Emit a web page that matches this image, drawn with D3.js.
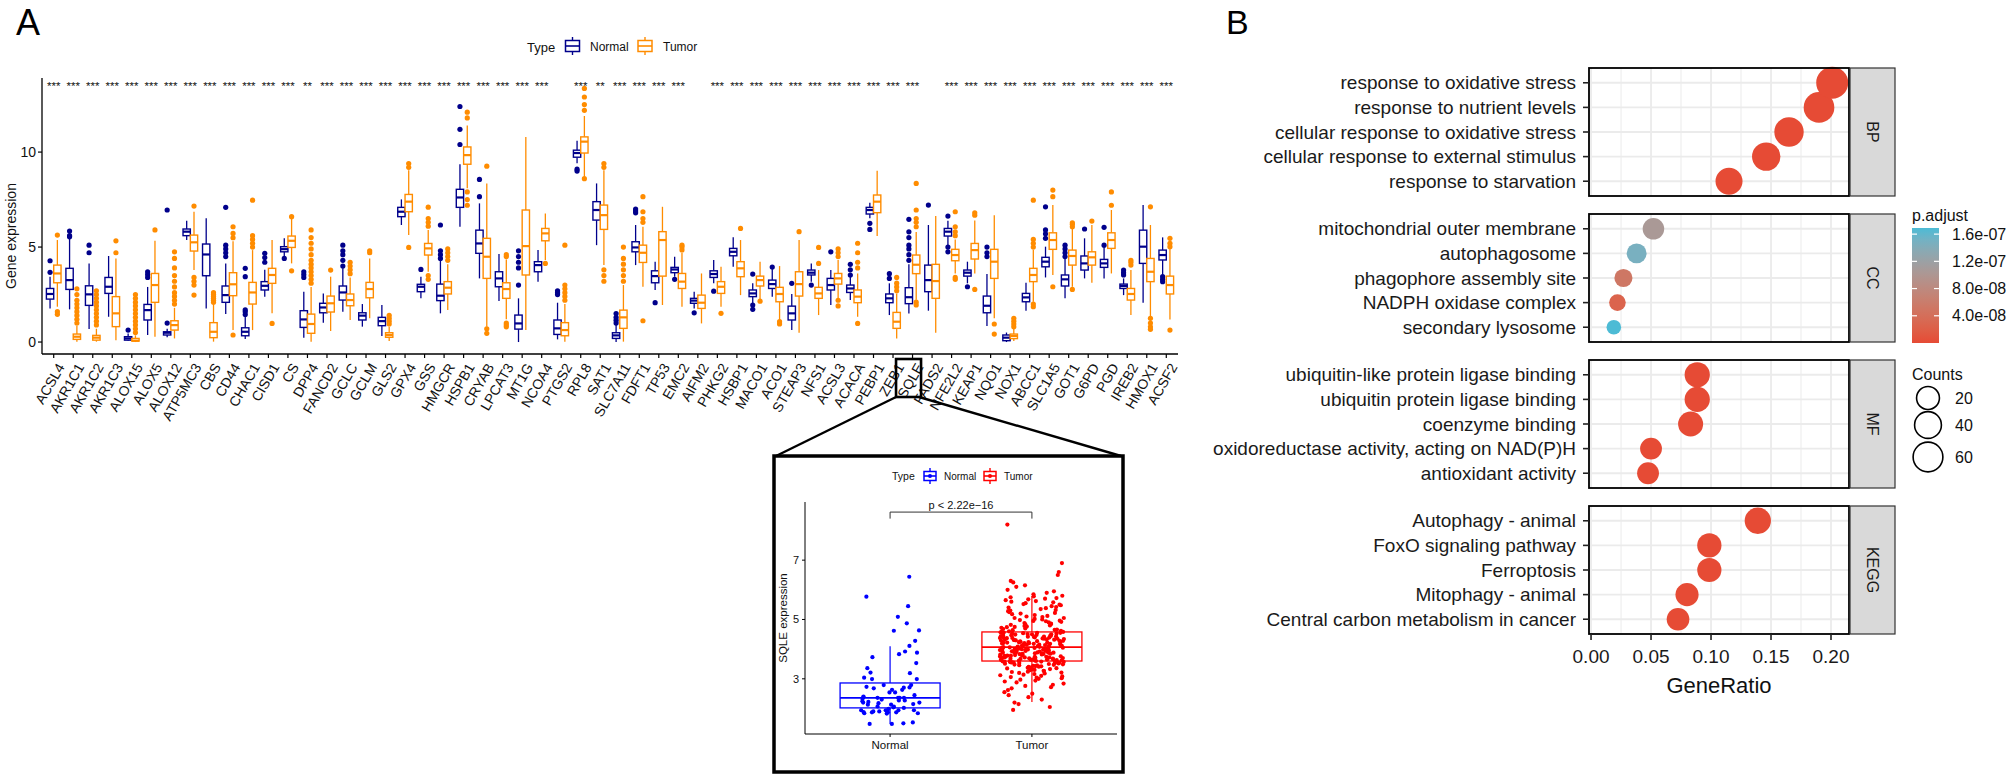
<!DOCTYPE html>
<html><head><meta charset="utf-8">
<script src="https://cdn.jsdelivr.net/npm/d3@7"></script>
<style>body{margin:0;background:#fff} svg{display:block} text{font-family:"Liberation Sans",Arial,sans-serif}</style>
</head><body>
<svg id="chart" width="2007" height="775"></svg>
<script>
// ---------------- Panel A data ----------------
const genes = ["ACSL4","AKR1C1","AKR1C2","AKR1C3","ALOX15","ALOX5","ALOX12","ATP5MC3","CBS","CD44","CHAC1","CISD1","CS","DPP4","FANCD2","GCLC","GCLM","GLS2","GPX4","GSS","HMGCR","HSPB1","CRYAB","LPCAT3","MT1G","NCOA4","PTGS2","RPL8","SAT1","SLC7A11","FDFT1","TP53","EMC2","AIFM2","PHKG2","HSBP1","MACO1","ACO1","STEAP3","NFS1","ACSL3","ACACA","PEBP1","ZEB1","SQLE","FADS2","NFE2L2","KEAP1","NQO1","NOX1","ABCC1","SLC1A5","GOT1","G6PD","PGD","IREB2","HMOX1","ACSF2"];
const stars = ["***","***","***","***","***","***","***","***","***","***","***","***","***","**","***","***","***","***","***","***","***","***","***","***","***","***","","***","**","***","***","***","***","","***","***","***","***","***","***","***","***","***","***","***","","***","***","***","***","***","***","***","***","***","***","***","***"];
// [lower whisker, Q1, median, Q3, upper whisker]
const normalBox = [[1.77,2.26,2.53,2.82,3.44],[1.72,2.77,3.26,3.88,5.46],[0.68,1.93,2.51,2.96,4.14],[1.33,2.56,2.91,3.4,4.53],[0.05,0.1,0.19,0.28,0.45],[0.37,1.16,1.68,1.98,2.9],[0.25,0.37,0.49,0.54,0.7],[5.37,5.6,5.81,5.95,6.39],[1.77,3.49,4.61,5.16,6.51],[1.47,2.09,2.47,2.95,4.14],[0.16,0.33,0.54,0.75,1.33],[2.39,2.74,2.96,3.18,3.8],[4.53,4.75,4.89,5.02,5.46],[0.23,0.77,1.19,1.65,2.65],[1.02,1.54,1.82,2.04,2.56],[1.6,2.21,2.61,2.95,3.88],[0.81,1.16,1.39,1.54,2.0],[0.32,0.86,1.1,1.3,1.95],[6.16,6.6,6.86,7.09,7.51],[2.3,2.65,2.91,3.04,3.44],[1.51,2.18,2.44,3.05,4.3],[6.07,7.09,7.61,8.04,9.36],[3.35,4.67,5.19,5.89,7.3],[2.16,2.91,3.35,3.7,4.63],[0.0,0.68,0.98,1.42,2.3],[3.18,3.7,4.05,4.23,4.84],[0.14,0.4,0.72,1.16,2.07],[9.41,9.73,9.95,10.1,10.6],[5.1,6.42,6.95,7.39,8.35],[0.0,0.19,0.35,0.49,0.9],[4.05,4.75,4.98,5.28,6.16],[2.74,3.12,3.47,3.75,4.23],[3.44,3.65,3.82,3.93,4.49],[1.77,2.04,2.18,2.3,2.65],[3.09,3.4,3.58,3.75,4.32],[3.96,4.54,4.75,4.93,5.51],[2.04,2.39,2.56,2.74,3.09],[2.39,2.82,3.05,3.26,3.88],[0.63,1.16,1.51,1.89,2.53],[3.18,3.53,3.65,3.79,4.14],[1.95,2.74,3.0,3.35,3.79],[2.21,2.61,2.82,3.0,3.44],[6.51,6.74,6.95,7.09,7.33],[1.42,2.07,2.3,2.53,3.09],[1.5,2.02,2.36,2.86,4.1],[1.65,2.65,3.26,4.05,6.16],[5.1,5.58,5.81,5.98,6.39],[3.09,3.47,3.65,3.79,4.23],[0.84,1.54,1.91,2.42,3.58],[0.0,0.07,0.23,0.37,0.5],[1.65,2.12,2.35,2.56,3.12],[3.4,3.96,4.23,4.46,5.02],[2.3,2.95,3.3,3.53,4.4],[3.35,3.79,4.14,4.53,5.46],[3.35,3.93,4.14,4.35,5.02],[2.47,2.82,2.95,3.05,3.35],[2.07,4.14,5.02,5.89,7.21],[3.53,4.32,4.58,4.84,5.51]];
const tumorBox = [[1.86,3.12,3.61,4.05,5.37],[0.02,0.14,0.28,0.42,0.85],[0.02,0.1,0.23,0.35,0.7],[0.1,0.81,1.51,2.39,4.4],[0.0,0.05,0.07,0.19,0.35],[0.28,2.09,3.0,3.61,5.33],[0.19,0.63,0.89,1.12,1.8],[3.79,4.79,5.25,5.63,6.86],[0.02,0.23,0.54,1.02,2.0],[0.63,2.44,3.04,3.65,5.3],[0.63,2.0,2.61,3.14,4.84],[1.51,3.09,3.53,3.88,5.37],[4.14,4.98,5.33,5.58,6.51],[0.02,0.46,0.95,1.47,2.9],[0.58,1.58,2.04,2.42,3.44],[1.16,1.91,2.21,2.53,3.4],[1.25,2.33,2.79,3.14,4.4],[0.05,0.25,0.37,0.49,0.81],[5.63,6.86,7.39,7.77,9.05],[3.7,4.58,4.93,5.19,5.9],[1.68,2.53,2.86,3.18,4.1],[8.1,9.36,9.84,10.27,11.4],[0.81,3.35,4.49,5.46,8.35],[1.2,2.3,2.79,3.12,4.35],[0.63,3.53,5.05,6.95,10.8],[4.32,5.33,5.72,5.98,6.77],[0.02,0.33,0.63,1.02,2.0],[8.7,9.95,10.55,10.8,11.9],[4.05,5.93,6.68,7.21,9.05],[0.02,0.72,1.3,1.68,3.0],[2.91,4.19,4.7,5.1,6.07],[1.95,3.47,5.37,5.81,7.12],[1.86,2.82,3.18,3.61,4.7],[0.98,1.77,2.07,2.47,3.61],[1.86,2.56,2.91,3.18,3.96],[2.47,3.44,3.88,4.23,5.37],[2.21,2.95,3.26,3.47,4.23],[1.16,2.12,2.53,2.88,4.0],[0.49,2.42,3.05,3.7,5.37],[1.42,2.3,2.56,2.88,3.79],[2.3,3.05,3.35,3.61,4.32],[1.33,2.07,2.39,2.74,3.61],[5.58,6.81,7.39,7.74,9.02],[0.19,0.72,1.07,1.56,2.56],[2.22,3.6,4.07,4.58,5.79],[0.49,2.3,3.21,4.09,6.63],[3.61,4.28,4.58,4.88,5.4],[3.61,4.37,4.84,5.19,6.4],[1.25,3.35,4.23,4.88,6.68],[0.05,0.18,0.32,0.42,0.7],[2.12,3.18,3.53,3.88,4.84],[3.53,4.88,5.37,5.75,7.21],[2.91,4.05,4.53,4.84,6.0],[3.12,4.05,4.46,4.75,6.16],[3.61,4.93,5.37,5.75,6.95],[1.42,2.21,2.53,2.82,3.79],[1.33,3.18,3.7,4.4,6.16],[1.19,2.53,3.0,3.47,4.93]];
const normalOut = [[4.28,3.67],[5.84,5.6,5.54],[4.7,5.1],[],[0.63],[3.7,3.55,3.4],[1.0,6.95],[],[],[4.5,4.7,4.9,5.1,7.09],[1.45,1.6,1.7,3.44,3.88],[4.2,4.45,4.67],[4.4],[3.4,3.55,3.7],[],[4.0,4.3,4.6,4.8,5.1],[],[],[],[3.82],[4.4,4.6,4.8,6.16],[10.4,11.2,12.4],[7.65,8.56],[],[3.0,3.9,4.2,4.5,4.8],[],[2.5,2.6,2.7],[9.1,9.0],[],[1.0,1.15,1.3,1.5],[6.8,6.9,7.0],[2.07],[3.3],[1.54],[2.68],[],[3.58,1.95,1.72],[3.95],[3.09],[3.0],[4.75],[3.53,3.8,4.09],[6.25,5.93],[3.35,3.6],[4.3,4.6,4.9,5.1,5.5,5.8,6.46],[7.21],[6.63,5.0,4.75],[2.91],[4.5,4.7,5.0],[],[],[5.46,5.7,5.9,7.12],[4.5,4.7,4.9,5.1],[5.95],[5.1,6.04],[3.53,3.65,3.79],[],[3.44,3.3,3.18]];
const tumorOut = [[5.63,1.6,1.46],[2.8,2.5,2.2,2.0,1.8,1.6,1.4,1.2,1.0],[2.7,2.5,2.3,2.1,1.9,1.7,1.5,1.3,1.1,0.9],[4.7,5.33],[2.5,2.3,2.1,1.9,1.7,1.5,1.3,1.1,0.9,0.7,0.5],[5.9],[4.75,4.4,3.9,3.5,3.2,2.9,2.6,2.4,2.2,2.0],[7.16,3.4,3.2,3.0,2.47],[2.6,2.5,2.4,2.3,2.2,2.1],[6.07,5.72,5.49,0.37],[5.0,5.2,5.4,5.6,7.47],[0.98],[6.6,3.75],[3.1,3.3,3.5,3.7,3.9,4.1,4.3,4.6,4.9,5.2,5.5,5.9],[3.79],[3.6,3.8,4.0,4.2],[4.7,4.8],[0.95,1.1,1.25,1.4],[9.2,9.4,4.98],[6.1,6.3,6.5,7.1,3.5,3.3],[4.3,4.5,4.7,4.9],[11.8,12.1,7.2,7.5,7.9],[9.26,0.7,0.46],[4.5,4.6,1.0,0.9,0.8],[],[4.14],[2.2,2.4,2.6,2.8,3.0,5.1],[12.2,12.5,12.9,13.35,8.6],[9.2,9.4,3.8,3.5,3.2],[3.2,3.5,3.8,4.1,4.4,5.0],[6.3,6.5,6.86,7.65,1.12],[],[4.85,5.0,5.1],[],[1.51],[5.98],[2.15],[1.07,0.95],[5.81],[4.14,4.98],[4.5,4.7,4.9,2.2,1.9],[3.9,4.2,4.7,5.2,0.98],[],[2.7,2.9,3.1,3.4],[6.07,6.3,6.5,6.95,8.35,2.1,1.95],[],[5.6,5.8,6.07,6.86,3.4,3.3],[6.68,6.8,2.77],[0.95,0.42],[0.8,0.95,1.1,1.25],[5.0,5.2,5.4,7.47,2.0,1.86],[7.65,8.0,2.91],[6.07,6.2,6.28,2.77],[6.37],[7.2,7.9],[4.05,4.2,4.3],[7.12,1.25,1.0,0.8,0.67],[5.02,5.2,5.46,0.63]];
const groups = ["Normal","Tumor"];
const yTicksA = [0,5,10];

// ---------------- Inset (SQLE) data ----------------
const sqleGroups = ["Normal","Tumor"];
const sqleBox = [[1.48,2.02,2.36,2.86,4.1],[2.22,3.6,4.07,4.58,5.79]];
const sqleNormal = [6.44,5.77,5.45,5.09,4.87,4.62,4.63,4.28,4.11,3.88,3.92,3.83,3.73,3.53,3.36,3.19,3.21,3.04,2.99,2.99,2.7,2.73,2.79,2.79,2.68,2.63,2.54,2.54,2.38,2.4,2.36,2.36,2.32,2.3,2.27,2.24,2.2,2.2,2.18,2.15,2.13,2.06,2.07,2.04,1.99,2.02,1.94,1.93,1.9,1.87,1.88,1.87,1.94,1.9,1.84,1.87,1.84,1.83,1.94,1.53,1.48,1.5,1.48,2.71,2.27,2.63,2.45,2.36,2.22,2.13,1.94,2.36];
const sqleTumor = [1.95,2.05,2.15,2.2,2.3,2.38,2.45,2.5,2.55,2.62,2.68,2.72,2.76,2.8,2.84,2.88,2.91,2.94,2.97,3.0,3.02,3.04,3.06,3.08,3.1,3.12,3.14,3.16,3.18,3.2,3.21,3.23,3.24,3.26,3.27,3.29,3.3,3.32,3.33,3.35,3.36,3.37,3.39,3.4,3.41,3.42,3.43,3.44,3.45,3.46,3.47,3.48,3.49,3.5,3.51,3.52,3.53,3.53,3.54,3.55,3.55,3.56,3.56,3.57,3.57,3.58,3.58,3.59,3.59,3.6,
3.61,3.62,3.62,3.63,3.64,3.64,3.65,3.66,3.66,3.67,3.68,3.68,3.69,3.7,3.7,3.71,3.72,3.72,3.73,3.74,3.74,3.75,3.76,3.76,3.77,3.78,3.78,3.79,3.8,3.8,3.81,3.82,3.82,3.83,3.84,3.84,3.85,3.86,3.86,3.87,3.88,3.88,3.89,3.9,3.9,3.91,3.92,3.92,3.93,3.94,3.94,3.95,3.96,3.96,3.97,3.98,3.98,3.99,4.0,4.0,4.01,4.02,4.02,4.03,4.04,4.04,4.05,4.06,4.06,4.07,
4.08,4.09,4.1,4.1,4.11,4.12,4.13,4.14,4.15,4.15,4.16,4.17,4.18,4.19,4.2,4.2,4.21,4.22,4.23,4.24,4.25,4.25,4.26,4.27,4.28,4.29,4.3,4.3,4.31,4.32,4.33,4.34,4.35,4.35,4.36,4.37,4.38,4.39,4.4,4.4,4.41,4.42,4.43,4.44,4.45,4.45,4.46,4.47,4.48,4.49,4.5,4.5,4.51,4.52,4.53,4.54,4.55,4.55,4.56,4.57,4.58,4.58,4.12,4.22,4.32,4.42,4.52,4.18,4.28,4.38,
4.6,4.62,4.64,4.66,4.68,4.7,4.72,4.74,4.76,4.78,4.8,4.82,4.84,4.86,4.88,4.9,4.92,4.94,4.96,4.98,5.0,5.02,5.05,5.08,5.1,5.12,5.15,5.18,5.2,5.22,5.25,5.28,5.3,5.32,5.35,5.38,5.4,5.42,5.45,5.48,5.5,5.52,5.55,5.58,5.6,5.62,5.65,5.68,5.7,5.72,5.75,5.78,5.8,5.85,5.9,5.95,6.0,6.1,6.15,6.25,6.3,6.5,6.6,6.9,8.2,4.65,4.75,4.85,4.95,5.05];
const sqleYTicks = [3,5,7];
const sqleP = "p < 2.22e\u221216";

// ---------------- Panel B data ----------------
const ontologies = ["BP","CC","MF","KEGG"];
const termsBP = ["response to oxidative stress","response to nutrient levels","cellular response to oxidative stress","cellular response to external stimulus","response to starvation"];
const termsCC = ["mitochondrial outer membrane","autophagosome","phagophore assembly site","NADPH oxidase complex","secondary lysosome"];
const termsMF = ["ubiquitin-like protein ligase binding","ubiquitin protein ligase binding","coenzyme binding","oxidoreductase activity, acting on NAD(P)H","antioxidant activity"];
const termsKEGG = ["Autophagy - animal","FoxO signaling pathway","Ferroptosis","Mitophagy - animal","Central carbon metabolism in cancer"];
const ratioBP = [0.201,0.190,0.165,0.146,0.115];
const ratioCC = [0.052,0.038,0.027,0.022,0.019];
const ratioMF = [0.0885,0.0885,0.083,0.050,0.0475];
const ratioKEGG = [0.139,0.0986,0.0986,0.080,0.0725];
const countBP = [78,67,57,50,41];
const countCC = [15,10,6,4,3];
const countMF = [31,31,30,16,16];
const countKEGG = [37,26,26,21,19];
const padjBP = [1e-20,3e-19,2e-17,5e-16,4e-14];
const padjCC = [1.05e-7,1.48e-7,5.2e-8,2.6e-8,1.69e-7];
const padjMF = [2e-12,3e-12,5e-12,8e-11,1e-10];
const padjKEGG = [1e-14,6e-12,6e-12,3e-11,2e-10];
const xTicksB = [0,0.05,0.10,0.15,0.20];
const padjBreaks = [4e-8,8e-8,1.2e-7,1.6e-7];
const countBreaks = [20,40,60];

// ================= drawing =================
const svg = d3.select('#chart');

// ---- Panel A ----
const colN = '#00008B', colT = '#FF8C00';
const A = {left:42, right:1178, top:78, bottom:354};
const x = d3.scalePoint().domain(genes).range([A.left, A.right]).padding(0.6);
const y = d3.scaleLinear().domain([-0.63, 13.9]).range([A.bottom, A.top]);
const step = x.step();
const bw = step*0.375, off = step*0.1875;

svg.append('text').attr('x',16).attr('y',35).attr('font-size',36).text('A');

const gA = svg.append('g');
function drawBox(g, cx, s, outs, col, w, rOut){
  g.append('line').attr('x1',cx).attr('x2',cx).attr('y1',y(s[4])).attr('y2',y(s[3])).attr('stroke',col).attr('stroke-width',1.3);
  g.append('line').attr('x1',cx).attr('x2',cx).attr('y1',y(s[1])).attr('y2',y(s[0])).attr('stroke',col).attr('stroke-width',1.3);
  g.append('rect').attr('x',cx-w/2).attr('y',y(s[3])).attr('width',w).attr('height',Math.max(1,y(s[1])-y(s[3])))
    .attr('fill','#fff').attr('stroke',col).attr('stroke-width',1.4);
  g.append('line').attr('x1',cx-w/2).attr('x2',cx+w/2).attr('y1',y(s[2])).attr('y2',y(s[2])).attr('stroke',col).attr('stroke-width',2.2);
  outs.forEach(v=>g.append('circle').attr('cx',cx).attr('cy',y(v)).attr('r',rOut).attr('fill',col));
}
genes.forEach((gname,i)=>{
  drawBox(gA, x(gname)-off, normalBox[i], normalOut[i], colN, bw, 2.6);
  drawBox(gA, x(gname)+off, tumorBox[i], tumorOut[i], colT, bw, 2.6);
});
// stars
gA.selectAll('text.star').data(genes).enter().append('text')
  .attr('x',d=>x(d)).attr('y',90).attr('text-anchor','middle').attr('font-size',11.5).attr('fill','#111')
  .text((d,i)=>stars[i]);
// axes
gA.append('line').attr('x1',A.left).attr('x2',A.left).attr('y1',A.top).attr('y2',A.bottom).attr('stroke','#000').attr('stroke-width',1.3);
gA.append('line').attr('x1',A.left).attr('x2',A.right).attr('y1',A.bottom).attr('y2',A.bottom).attr('stroke','#000').attr('stroke-width',1.3);
yTicksA.forEach(t=>{
  gA.append('line').attr('x1',A.left-4).attr('x2',A.left).attr('y1',y(t)).attr('y2',y(t)).attr('stroke','#000').attr('stroke-width',1.2);
  gA.append('text').attr('x',A.left-6).attr('y',y(t)).attr('dy','0.35em').attr('text-anchor','end').attr('font-size',14).attr('fill','#111').text(t);
});
genes.forEach(gname=>{
  gA.append('line').attr('x1',x(gname)).attr('x2',x(gname)).attr('y1',A.bottom).attr('y2',A.bottom+4).attr('stroke','#000').attr('stroke-width',1.2);
  gA.append('text').attr('transform',`translate(${x(gname)+3},${A.bottom+8}) rotate(-60)`)
    .attr('text-anchor','end').attr('dy','0.7em').attr('font-size',14).attr('fill','#111').text(gname);
});
gA.append('text').attr('transform',`translate(16,${(A.top+A.bottom)/2+20}) rotate(-90)`).attr('text-anchor','middle')
  .attr('font-size',14).attr('fill','#111').text('Gene expression');
// legend A
function boxIcon(g, cx, cy, col, w, h, dot){
  g.append('line').attr('x1',cx).attr('x2',cx).attr('y1',cy-h/2-3.5).attr('y2',cy+h/2+3.5).attr('stroke',col).attr('stroke-width',1.4);
  g.append('rect').attr('x',cx-w/2).attr('y',cy-h/2).attr('width',w).attr('height',h).attr('fill','#fff').attr('stroke',col).attr('stroke-width',1.5);
  g.append('line').attr('x1',cx-w/2).attr('x2',cx+w/2).attr('y1',cy).attr('y2',cy).attr('stroke',col).attr('stroke-width',1.6);
  if(dot) g.append('circle').attr('cx',cx).attr('cy',cy).attr('r',2).attr('fill',col);
}
const legA = svg.append('g');
legA.append('text').attr('x',527).attr('y',52).attr('font-size',13).attr('fill','#111').text('Type');
boxIcon(legA, 572.5, 46, colN, 14, 11, false);
legA.append('text').attr('x',590).attr('y',51).attr('font-size',12).attr('fill','#111').text(groups[0]);
boxIcon(legA, 645, 46, colT, 14, 11, false);
legA.append('text').attr('x',663).attr('y',51).attr('font-size',12).attr('fill','#111').text(groups[1]);

// ---- Zoom callout ----
const sx = x('SQLE');
const sq = {x0:sx-16.5, x1:sx+8.5, y0:359, y1:397};
const IB = {x:774, y:456, w:349, h:316};
const gZ = svg.append('g');
gZ.append('rect').attr('x',sq.x0).attr('y',sq.y0).attr('width',sq.x1-sq.x0).attr('height',sq.y1-sq.y0).attr('fill','none').attr('stroke','#000').attr('stroke-width',2.6);
gZ.append('line').attr('x1',sq.x0).attr('y1',sq.y1).attr('x2',IB.x+2).attr('y2',IB.y).attr('stroke','#000').attr('stroke-width',2.4);
gZ.append('line').attr('x1',sq.x1-2).attr('y1',sq.y1).attr('x2',IB.x+IB.w-2).attr('y2',IB.y).attr('stroke','#000').attr('stroke-width',2.4);
gZ.append('rect').attr('x',IB.x).attr('y',IB.y).attr('width',IB.w).attr('height',IB.h).attr('fill','#fff').attr('stroke','#000').attr('stroke-width',3.5);

// ---- Inset ----
const I = {left:805, right:1117, top:502, bottom:734};
const xi = d3.scalePoint().domain(sqleGroups).range([I.left,I.right]).padding(0.6);
const yi = d3.scaleLinear().domain([1.14,8.96]).range([I.bottom,I.top]);
const gI = svg.append('g');
const inCols = ['#0000FF','#FF0000'];
const ibw = 100;
sqleGroups.forEach((gname,k)=>{
  const s = sqleBox[k], cx = xi(gname), col = inCols[k];
  gI.append('line').attr('x1',cx).attr('x2',cx).attr('y1',yi(s[4])).attr('y2',yi(s[3])).attr('stroke',col).attr('stroke-width',1.2);
  gI.append('line').attr('x1',cx).attr('x2',cx).attr('y1',yi(s[1])).attr('y2',yi(s[0])).attr('stroke',col).attr('stroke-width',1.2);
  gI.append('rect').attr('x',cx-ibw/2).attr('y',yi(s[3])).attr('width',ibw).attr('height',yi(s[1])-yi(s[3])).attr('fill','#fff').attr('stroke',col).attr('stroke-width',1.3);
  gI.append('line').attr('x1',cx-ibw/2).attr('x2',cx+ibw/2).attr('y1',yi(s[2])).attr('y2',yi(s[2])).attr('stroke',col).attr('stroke-width',1.8);
});
// deterministic jitter (hash of the point index), layout only
const jit = (i,half)=>{ const h = Math.sin(i*127.1+311.7)*43758.5453; return ((h-Math.floor(h))-0.5)*2*half; };
sqleNormal.forEach((v,i)=>gI.append('circle').attr('cx',xi('Normal')+jit(i,30)).attr('cy',yi(v)).attr('r',2.1).attr('fill',inCols[0]));
sqleTumor.forEach((v,i)=>gI.append('circle').attr('cx',xi('Tumor')+jit(i+500,32)).attr('cy',yi(v)).attr('r',2.1).attr('fill',inCols[1]));
// inset axes
gI.append('line').attr('x1',I.left).attr('x2',I.left).attr('y1',I.top).attr('y2',I.bottom).attr('stroke','#000').attr('stroke-width',1);
gI.append('line').attr('x1',I.left).attr('x2',I.right).attr('y1',I.bottom).attr('y2',I.bottom).attr('stroke','#000').attr('stroke-width',1);
sqleYTicks.forEach(t=>{
  gI.append('line').attr('x1',I.left-3).attr('x2',I.left).attr('y1',yi(t)).attr('y2',yi(t)).attr('stroke','#000');
  gI.append('text').attr('x',I.left-6).attr('y',yi(t)).attr('dy','0.35em').attr('text-anchor','end').attr('font-size',11).attr('fill','#111').text(t);
});
sqleGroups.forEach(gname=>{
  gI.append('line').attr('x1',xi(gname)).attr('x2',xi(gname)).attr('y1',I.bottom).attr('y2',I.bottom+3).attr('stroke','#000');
  gI.append('text').attr('x',xi(gname)).attr('y',I.bottom+15).attr('text-anchor','middle').attr('font-size',11.5).attr('fill','#111').text(gname);
});
gI.append('text').attr('transform',`translate(787,${(I.top+I.bottom)/2}) rotate(-90)`).attr('text-anchor','middle').attr('font-size',11.5).attr('fill','#111').text('SQLE expression');
// bracket
const by = yi(8.62), by2 = yi(8.40);
gI.append('path').attr('d',`M${xi('Normal')},${by2}V${by}H${xi('Tumor')}V${by2}`).attr('fill','none').attr('stroke','#333').attr('stroke-width',1);
gI.append('text').attr('x',(xi('Normal')+xi('Tumor'))/2).attr('y',by-3).attr('text-anchor','middle').attr('font-size',11).attr('fill','#111').text(sqleP);
// inset legend
gI.append('text').attr('x',892).attr('y',480).attr('font-size',10.5).attr('fill','#111').text('Type');
boxIcon(gI, 930, 476, inCols[0], 12, 9, true);
gI.append('text').attr('x',944).attr('y',480).attr('font-size',10).attr('fill','#111').text(sqleGroups[0]);
boxIcon(gI, 990, 476, inCols[1], 12, 9, true);
gI.append('text').attr('x',1004).attr('y',480).attr('font-size',10).attr('fill','#111').text(sqleGroups[1]);

// ---- Panel B ----
svg.append('text').attr('x',1226).attr('y',34).attr('font-size',34).text('B');
const B = {left:1589, right:1849, tops:[68,214,360,506], ph:128, stripW:45};
const xb = d3.scaleLinear().domain([-0.0017,0.215]).range([B.left,B.right]);
const ontData = [
  {terms:termsBP, ratio:ratioBP, count:countBP, padj:padjBP},
  {terms:termsCC, ratio:ratioCC, count:countCC, padj:padjCC},
  {terms:termsMF, ratio:ratioMF, count:countMF, padj:padjMF},
  {terms:termsKEGG, ratio:ratioKEGG, count:countKEGG, padj:padjKEGG}];
const allCounts = [].concat(countBP,countCC,countMF,countKEGG);
const allPadj = [].concat(padjBP,padjCC,padjMF,padjKEGG);
const cExt = d3.extent(allCounts);
const dRange = [14.6, 32];
const sizeR = c => (dRange[0] + (dRange[1]-dRange[0])*Math.sqrt(Math.max(0,(c-cExt[0])/(cExt[1]-cExt[0]))))/2;
const pMax = d3.max(allPadj);
const colB = d3.scaleLinear().domain([0,pMax]).range(['#E64B35','#4DBBD5']).interpolate(d3.interpolateLab);
const gB = svg.append('g');
const minorTicks = [0.025,0.075,0.125,0.175];
ontologies.forEach((ont,k)=>{
  const top = B.tops[k], bot = top+B.ph, od = ontData[k];
  const yb = d3.scalePoint().domain(od.terms).range([top,bot]).padding(0.6);
  gB.append('rect').attr('x',B.left).attr('y',top).attr('width',B.right-B.left).attr('height',B.ph).attr('fill','#fff');
  minorTicks.forEach(t=>gB.append('line').attr('x1',xb(t)).attr('x2',xb(t)).attr('y1',top).attr('y2',bot).attr('stroke','#EBEBEB').attr('stroke-width',1));
  xTicksB.forEach(t=>gB.append('line').attr('x1',xb(t)).attr('x2',xb(t)).attr('y1',top).attr('y2',bot).attr('stroke','#EBEBEB').attr('stroke-width',1.8));
  od.terms.forEach(t=>gB.append('line').attr('x1',B.left).attr('x2',B.right).attr('y1',yb(t)).attr('y2',yb(t)).attr('stroke','#EBEBEB').attr('stroke-width',1.8));
  od.terms.slice().reverse().forEach(t=>{
    const i = od.terms.indexOf(t);
    gB.append('circle').attr('cx',xb(od.ratio[i])).attr('cy',yb(t)).attr('r',sizeR(od.count[i])).attr('fill',colB(od.padj[i]));
  });
  gB.append('rect').attr('x',B.left).attr('y',top).attr('width',B.right-B.left).attr('height',B.ph).attr('fill','none').attr('stroke','#000').attr('stroke-width',1.8);
  od.terms.forEach(t=>{
    gB.append('line').attr('x1',B.left-6).attr('x2',B.left).attr('y1',yb(t)).attr('y2',yb(t)).attr('stroke','#222').attr('stroke-width',1.6);
    gB.append('text').attr('x',B.left-13).attr('y',yb(t)).attr('dy','0.35em').attr('text-anchor','end').attr('font-size',19).attr('fill','#1a1a1a').text(t);
  });
  gB.append('rect').attr('x',B.right+1).attr('y',top).attr('width',B.stripW).attr('height',B.ph).attr('fill','#D9D9D9').attr('stroke','#333').attr('stroke-width',1.2);
  gB.append('text').attr('transform',`translate(${B.right+1+B.stripW/2},${top+B.ph/2}) rotate(90)`).attr('text-anchor','middle').attr('dy','0.35em')
    .attr('font-size',16).attr('fill','#1a1a1a').text(ont);
});
const lastBot = B.tops[3]+B.ph;
xTicksB.forEach(t=>{
  gB.append('line').attr('x1',xb(t)).attr('x2',xb(t)).attr('y1',lastBot).attr('y2',lastBot+6).attr('stroke','#222').attr('stroke-width',1.6);
  gB.append('text').attr('x',xb(t)).attr('y',lastBot+29).attr('text-anchor','middle').attr('font-size',19).attr('fill','#1a1a1a').text(d3.format('.2f')(t));
});
gB.append('text').attr('x',(B.left+B.right)/2).attr('y',693).attr('text-anchor','middle').attr('font-size',22).attr('fill','#111').text('GeneRatio');
const cb = {x:1912, y0:228, y1:343, w:27};
const cbScale = d3.scaleLinear().domain([0,pMax]).range([cb.y1,cb.y0]);
const defs = svg.append('defs');
const grad = defs.append('linearGradient').attr('id','cbgrad').attr('x1',0).attr('y1',1).attr('x2',0).attr('y2',0);
d3.range(0,1.0001,0.1).forEach(f=>grad.append('stop').attr('offset',f).attr('stop-color',colB(f*pMax)));
gB.append('text').attr('x',cb.x).attr('y',221).attr('font-size',16).attr('fill','#111').text('p.adjust');
gB.append('rect').attr('x',cb.x).attr('y',cb.y0).attr('width',cb.w).attr('height',cb.y1-cb.y0).attr('fill','url(#cbgrad)');
padjBreaks.forEach(b=>{
  const yy = cbScale(b);
  gB.append('line').attr('x1',cb.x).attr('x2',cb.x+5).attr('y1',yy).attr('y2',yy).attr('stroke','#fff').attr('stroke-width',1.2);
  gB.append('line').attr('x1',cb.x+cb.w-5).attr('x2',cb.x+cb.w).attr('y1',yy).attr('y2',yy).attr('stroke','#fff').attr('stroke-width',1.2);
  gB.append('text').attr('x',cb.x+cb.w+13).attr('y',yy).attr('dy','0.35em').attr('font-size',16).attr('fill','#111')
    .text(d3.format('.1e')(b).replace(/e([+-])(\d)$/,'e$10$2'));
});
gB.append('text').attr('x',cb.x).attr('y',380).attr('font-size',16).attr('fill','#111').text('Counts');
const cy0 = [398,425,457];
countBreaks.forEach((c,i)=>{
  gB.append('circle').attr('cx',1928).attr('cy',cy0[i]).attr('r',sizeR(c)).attr('fill','none').attr('stroke','#000').attr('stroke-width',1.6);
  gB.append('text').attr('x',1955).attr('y',cy0[i]).attr('dy','0.35em').attr('font-size',16).attr('fill','#111').text(c);
});
</script>
</body></html>
